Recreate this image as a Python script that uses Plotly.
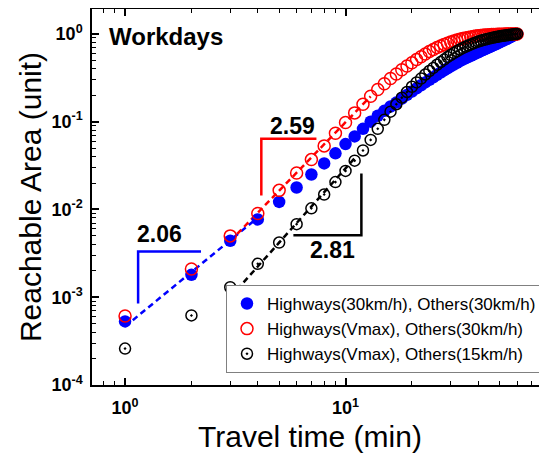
import numpy as np
import plotly.graph_objects as go

# ---------------- data ----------------
travel_time = list(range(1, 61))  # minutes

area_hw30_ot30 = [5.3e-4, 1.8e-3, 4.4e-3, 7.7e-3, 0.0122, 0.0178, 0.025, 0.0335, 0.0436, 0.0556,
                  0.068, 0.083, 0.100, 0.117, 0.133, 0.149, 0.165, 0.183, 0.202, 0.221,
                  0.240, 0.260, 0.280, 0.300, 0.321, 0.342, 0.363, 0.384, 0.405, 0.426,
                  0.447, 0.468, 0.489, 0.510, 0.528, 0.546, 0.564, 0.582, 0.600, 0.618,
                  0.636, 0.654, 0.672, 0.690, 0.708, 0.726, 0.744, 0.762, 0.782, 0.802,
                  0.822, 0.842, 0.862, 0.882, 0.902, 0.922, 0.942, 0.962, 0.981, 1.000]

area_hwvmax_ot30 = [6.1e-4, 2.1e-3, 5.0e-3, 9.0e-3, 0.0165, 0.026, 0.037, 0.053, 0.074, 0.098,
                    0.126, 0.158, 0.195, 0.233, 0.270, 0.310, 0.350, 0.390, 0.430, 0.470,
                    0.510, 0.550, 0.590, 0.630, 0.665, 0.700, 0.730, 0.760, 0.785, 0.810,
                    0.830, 0.850, 0.870, 0.885, 0.900, 0.913, 0.925, 0.935, 0.944, 0.952,
                    0.959, 0.965, 0.970, 0.975, 0.979, 0.983, 0.986, 0.988, 0.990, 0.992,
                    0.993, 0.994, 0.995, 0.996, 0.997, 0.998, 0.998, 0.999, 0.999, 1.000]

area_hwvmax_ot15 = [2.6e-4, 6.2e-4, 1.3e-3, 2.4e-3, 4.2e-3, 6.8e-3, 0.0103, 0.0148, 0.0205, 0.0275,
                    0.036, 0.047, 0.062, 0.083, 0.105, 0.130, 0.158, 0.188, 0.218, 0.250,
                    0.280, 0.310, 0.345, 0.378, 0.410, 0.445, 0.478, 0.510, 0.545, 0.575,
                    0.605, 0.635, 0.665, 0.690, 0.715, 0.738, 0.760, 0.780, 0.800, 0.818,
                    0.835, 0.850, 0.864, 0.877, 0.889, 0.900, 0.910, 0.920, 0.929, 0.938,
                    0.946, 0.954, 0.961, 0.968, 0.975, 0.981, 0.987, 0.992, 0.996, 1.000]

series_names = ["Highways(30km/h), Others(30km/h)",
                "Highways(Vmax), Others(30km/h)",
                "Highways(Vmax), Others(15km/h)"]

# power-law slopes and the fitting windows (minutes)
slopes = [2.06, 2.59, 2.81]
slope_labels = ["2.06", "2.59", "2.81"]
fit_windows = [(1, 4), (3, 13), (3, 11)]

# slope-bracket geometry (data units)
bracket_blue = dict(x=[1.146, 1.146, 2.21], y=[8.5e-4, 3.33e-3, 3.33e-3])
bracket_red = dict(x=[4.15, 4.15, 7.38], y=[0.0144, 0.064, 0.064])
bracket_black = dict(x=[11.8, 11.8, 5.8], y=[0.0257, 5.07e-3, 5.07e-3])
label_pos = [(1.44, 5.3e-3), (5.74, 0.090), (8.73, 3.42e-3)]

x_ticks = [1, 10]
x_ticktext = ["10<sup>0</sup>", "10<sup>1</sup>"]
y_ticks = [1e-4, 1e-3, 1e-2, 1e-1, 1]
y_ticktext = ["10<sup>-4</sup>", "10<sup>-3</sup>", "10<sup>-2</sup>", "10<sup>-1</sup>", "10<sup>0</sup>"]

# ---------------- figure ----------------
colors = ["#0000FF", "#FF0000", "#000000"]
FONT = "Arial, Liberation Sans, sans-serif"

fig = go.Figure()
all_series = [area_hw30_ot30, area_hwvmax_ot30, area_hwvmax_ot15]
x = np.array(travel_time, dtype=float)

# fitted dashed lines (drawn first, below markers)
for vals, s, (a, b), c in zip(all_series, slopes, fit_windows, colors):
    yv = np.array(vals)
    m = (x >= a) & (x <= b)
    logc = np.mean(np.log10(yv[m]) - s * np.log10(x[m]))
    xf = x[m]
    yf = 10 ** (logc + s * np.log10(xf))
    fig.add_trace(go.Scatter(x=xf, y=yf, mode="lines", showlegend=False,
                             line=dict(color=c, width=2.5, dash="6px,4px"),
                             hoverinfo="skip"))

marker_styles = [
    dict(symbol="circle", size=12.5, color="#0000FF", line=dict(width=0)),
    dict(symbol="circle-open", size=12, color="#FF0000", line=dict(width=1.5, color="#FF0000")),
    dict(symbol="circle-open-dot", size=11, color="#000000", line=dict(width=1.5, color="#000000")),
]
for vals, name, ms in zip(all_series, series_names, marker_styles):
    fig.add_trace(go.Scatter(x=travel_time, y=vals, mode="markers", name=name, marker=ms))

# slope brackets
for br, c in zip([bracket_blue, bracket_red, bracket_black], colors):
    fig.add_trace(go.Scatter(x=br["x"], y=br["y"], mode="lines", showlegend=False,
                             line=dict(color=c, width=2.5), hoverinfo="skip"))

for txt, (lx, ly) in zip(slope_labels, label_pos):
    fig.add_annotation(x=np.log10(lx), y=np.log10(ly), xref="x", yref="y", text=txt,
                       showarrow=False, font=dict(family=FONT, size=23, color="black", weight="bold"))

fig.add_annotation(x=0.033, y=0.926, xref="paper", yref="paper", text="Workdays",
                   xanchor="left", yanchor="middle", showarrow=False,
                   font=dict(family=FONT, size=24, color="black", weight="bold"))

# axis titles
fig.add_annotation(x=0.479, y=-0.138, xref="paper", yref="paper", text="Travel time (min)",
                   showarrow=False, xanchor="center", yanchor="middle",
                   font=dict(family=FONT, size=30, color="black"))
fig.add_annotation(x=-0.136, y=0.5, xref="paper", yref="paper", text="Reachable Area (unit)",
                   showarrow=False, textangle=-90, xanchor="center", yanchor="middle",
                   font=dict(family=FONT, size=30, color="black"))

def minor_vals(lo, hi):
    out = []
    for e in range(lo, hi + 1):
        for d in range(2, 10):
            out.append(d * 10.0 ** e)
    return out

fig.update_xaxes(type="log", range=[np.log10(0.708), np.log10(82)], automargin=False,
                 tickmode="array", tickvals=x_ticks, ticktext=x_ticktext,
                 ticks="inside", ticklen=7, tickwidth=1.5, tickcolor="black",
                 showline=True, linecolor="black", linewidth=1.5, mirror="ticks",
                 showgrid=False, zeroline=False,
                 tickfont=dict(family=FONT, size=18, color="black", weight="bold"),
                 ticklabelstandoff=6,
                 minor=dict(tickmode="array", tickvals=minor_vals(-1, 1), ticks="inside",
                            ticklen=4, tickwidth=1.2, tickcolor="black", showgrid=False))
fig.update_yaxes(type="log", range=[-4, 0.284], automargin=False,
                 tickmode="array", tickvals=y_ticks, ticktext=y_ticktext,
                 ticks="inside", ticklen=7, tickwidth=1.5, tickcolor="black",
                 showline=True, linecolor="black", linewidth=1.5, mirror=False,
                 showgrid=False, zeroline=False,
                 tickfont=dict(family=FONT, size=18, color="black", weight="bold"),
                 ticklabelstandoff=4,
                 minor=dict(tickmode="array", tickvals=minor_vals(-4, 0), ticks="inside",
                            ticklen=4, tickwidth=1.2, tickcolor="black", showgrid=False))

# the page adds an 8px body margin, so the figure is sized to fill the rest of the window
fig.update_layout(
    width=539, height=451,
    margin=dict(l=84, r=0, t=1, b=74, autoexpand=False),
    paper_bgcolor="white", plot_bgcolor="white",
    font=dict(family=FONT, color="black"),
    legend=dict(x=0.2945, y=0.032, xanchor="left", yanchor="bottom",
                bgcolor="white", bordercolor="#808080", borderwidth=1,
                font=dict(family=FONT, size=17, color="black"),
                itemwidth=30, tracegroupgap=0),
)

fig.write_html("out.html")
